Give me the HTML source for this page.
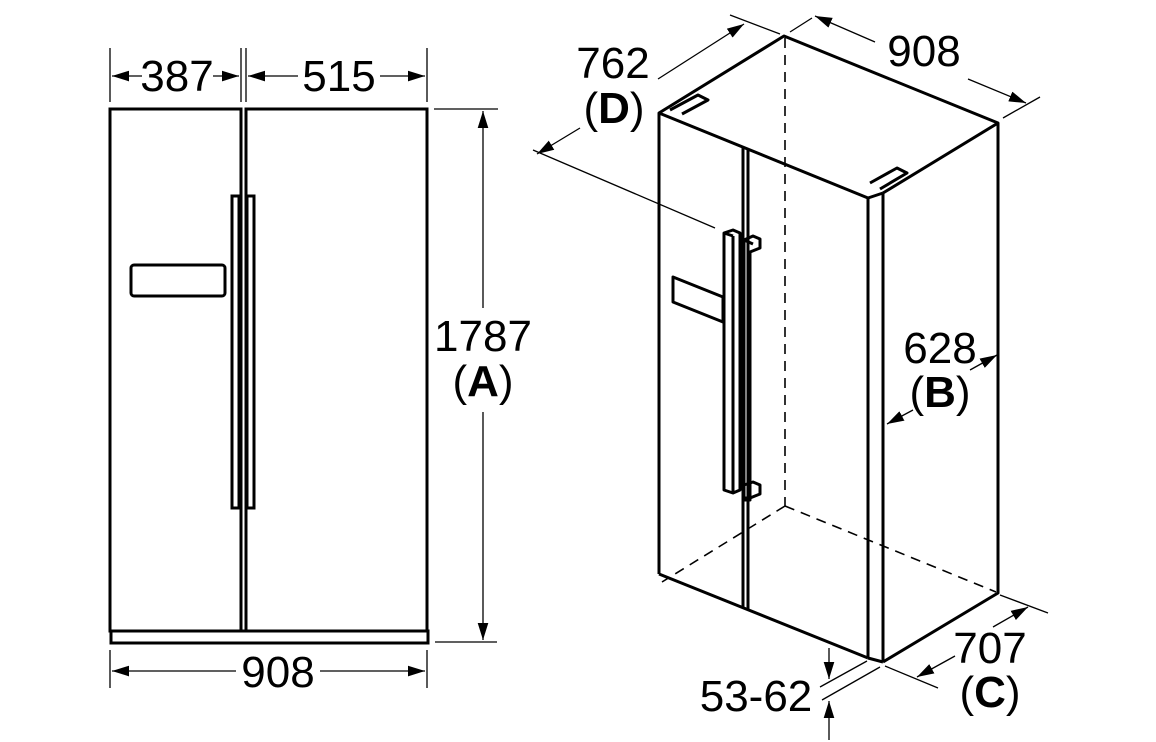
<!DOCTYPE html>
<html><head><meta charset="utf-8"><style>
html,body{margin:0;padding:0;background:#fff;}
svg{display:block;}
text{font-family:"Liberation Sans",sans-serif;fill:#000;}
</style></head><body>
<svg width="1156" height="742" viewBox="0 0 1156 742" xmlns="http://www.w3.org/2000/svg">
<defs>
<marker id="a" viewBox="0 0 16 10" refX="16" refY="5" markerWidth="17" markerHeight="11" markerUnits="userSpaceOnUse" orient="auto-start-reverse">
<path d="M0,0 L16,5 L0,10 z" fill="#000"/></marker>
</defs>
<g fill="none" stroke="#000">
<!-- FRONT VIEW -->
<g stroke-width="3">
<rect x="110" y="109" width="131" height="522"/>
<rect x="246" y="109" width="181" height="522"/>
<rect x="111" y="631" width="317" height="12"/>
<rect x="232" y="196" width="7" height="312"/>
<rect x="247" y="196" width="7" height="312"/>
<rect x="131" y="265" width="94" height="31" rx="3"/>
</g>
<g stroke-width="1.3">
<line x1="110" y1="48" x2="110" y2="102"/>
<line x1="241" y1="48" x2="241" y2="102"/>
<line x1="246" y1="48" x2="246" y2="102"/>
<line x1="427" y1="48" x2="427" y2="102"/>
<line x1="112" y1="76" x2="142" y2="76" marker-start="url(#a)"/>
<line x1="213" y1="76" x2="239" y2="76" marker-end="url(#a)"/>
<line x1="248" y1="76" x2="298" y2="76" marker-start="url(#a)"/>
<line x1="380" y1="76" x2="425" y2="76" marker-end="url(#a)"/>
<line x1="110" y1="650" x2="110" y2="688"/>
<line x1="427" y1="650" x2="427" y2="688"/>
<line x1="112" y1="671" x2="236" y2="671" marker-start="url(#a)"/>
<line x1="320" y1="671" x2="425" y2="671" marker-end="url(#a)"/>
<line x1="434" y1="109" x2="498" y2="109"/>
<line x1="435" y1="642" x2="497" y2="642"/>
<line x1="483" y1="111" x2="483" y2="308" marker-start="url(#a)"/>
<line x1="483" y1="412" x2="483" y2="640" marker-end="url(#a)"/>
</g>
<!-- ISO VIEW -->
<g stroke-width="3" stroke-linejoin="round">
<polyline points="659,574 659,113 784,36 998,123 998,593 883,662"/>
<line x1="659" y1="113" x2="868" y2="198"/>
<line x1="659" y1="574" x2="868" y2="658"/>
<line x1="868" y1="198" x2="868" y2="658"/>
<line x1="883" y1="193" x2="883" y2="662"/>
<line x1="868" y1="658" x2="883" y2="662"/>
<line x1="998" y1="123" x2="883" y2="193"/>
<line x1="868" y1="198" x2="883" y2="193"/>
<line x1="743" y1="147" x2="743" y2="608"/>
<line x1="748" y1="149" x2="748" y2="610"/>
<polyline points="670,110 698,95 708,100 682,114"/>
<polyline points="870,183 897,168 907,173 880,189"/>
<polygon points="673,277 723,297 723,322 673,302"/>
<polygon points="724,233 733,230 740,233 740,490 733,493 724,490"/>
<line x1="733" y1="236" x2="733" y2="493"/>
<line x1="724" y1="233" x2="733" y2="236"/>
<polygon points="744,240 753,236 760,239 760,248 750,252 750,500 744,500"/>
<polygon points="744,485 753,482 760,485 760,494 750,498 744,498"/>
<line x1="744" y1="240" x2="753" y2="244"/>
</g>
<g stroke-width="1.6" stroke-dasharray="10,7">
<line x1="785" y1="38" x2="785" y2="506"/>
<line x1="785" y1="506" x2="662" y2="582"/>
<line x1="785" y1="506" x2="996" y2="592"/>
</g>
<g stroke-width="1.3">
<line x1="730" y1="15" x2="780" y2="34"/>
<line x1="790" y1="32" x2="812" y2="18"/>
<line x1="1003" y1="118" x2="1040" y2="97"/>
<line x1="533" y1="150" x2="715" y2="228"/>
<line x1="580" y1="128" x2="537" y2="154" marker-end="url(#a)"/>
<line x1="658" y1="79" x2="744" y2="24" marker-end="url(#a)"/>
<line x1="875" y1="42" x2="815" y2="16" marker-end="url(#a)"/>
<line x1="968" y1="79" x2="1026" y2="103" marker-end="url(#a)"/>
<line x1="913" y1="410" x2="887" y2="424" marker-end="url(#a)"/>
<line x1="970" y1="370" x2="997" y2="355" marker-end="url(#a)"/>
<line x1="885" y1="666" x2="938" y2="688"/>
<line x1="1000" y1="595" x2="1048" y2="613"/>
<line x1="955" y1="656" x2="917" y2="677" marker-end="url(#a)"/>
<line x1="993" y1="627" x2="1028" y2="607" marker-end="url(#a)"/>
<line x1="820" y1="687" x2="867" y2="661"/>
<line x1="822" y1="700" x2="880" y2="667"/>
<line x1="829" y1="648" x2="829" y2="679" marker-end="url(#a)"/>
<line x1="829" y1="740" x2="829" y2="701" marker-end="url(#a)"/>
</g>
</g>
<g font-size="44">
<text x="177" y="91" text-anchor="middle">387</text>
<text x="339" y="91" text-anchor="middle">515</text>
<text x="278" y="687" text-anchor="middle">908</text>
<text x="483" y="351" text-anchor="middle">1787</text>
<text x="483" y="396" text-anchor="middle">(<tspan font-weight="bold">A</tspan>)</text>
<text x="613" y="78" text-anchor="middle">762</text>
<text x="614" y="123" text-anchor="middle">(<tspan font-weight="bold">D</tspan>)</text>
<text x="924" y="66" text-anchor="middle">908</text>
<text x="940" y="363" text-anchor="middle">628</text>
<text x="940" y="407" text-anchor="middle">(<tspan font-weight="bold">B</tspan>)</text>
<text x="990" y="663" text-anchor="middle">707</text>
<text x="990" y="707" text-anchor="middle">(<tspan font-weight="bold">C</tspan>)</text>
<text x="756" y="711" text-anchor="middle">53-62</text>
</g>
</svg>
</body></html>
